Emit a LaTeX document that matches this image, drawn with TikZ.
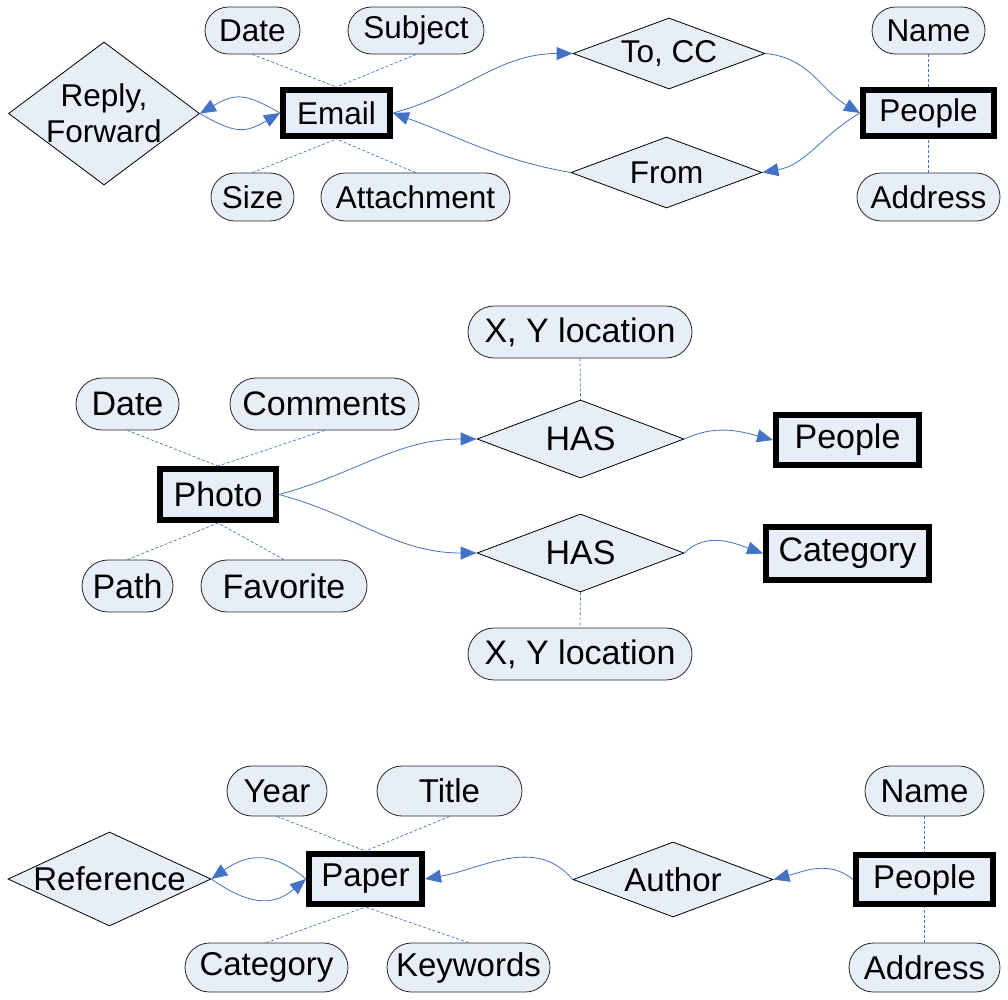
\documentclass[tikz,border=0pt]{standalone}
\usepackage{fontspec}
\setmainfont{Liberation Sans}
\usetikzlibrary{arrows.meta,shapes.geometric,shapes.misc}
\definecolor{erfill}{RGB}{232,238,248}
\definecolor{erblue}{RGB}{68,114,196}
\tikzset{
  entity/.style={draw=black, line width=6pt, fill=erfill, inner sep=0pt},
  attr/.style={rounded rectangle, draw=black!85, line width=0.8pt, fill=erfill, inner sep=0pt},
  rel/.style={diamond, draw=black, line width=0.8pt, fill=erfill, inner sep=0pt},
  reltext/.style={inner sep=0pt, align=center},
  link/.style={draw=erblue, line width=0.8pt, -{Triangle[length=16pt,width=13pt]}},
  attrline/.style={draw=erblue, line width=0.7pt, dash pattern=on 3pt off 2pt},
  fa/.style={font=\fontsize{31.5}{36}\selectfont},
  fb/.style={font=\fontsize{34}{38}\selectfont},
  fc/.style={font=\fontsize{33}{37}\selectfont},
}
\begin{document}
\begin{tikzpicture}[x=1pt,y=1pt]
\useasboundingbox (0,0) rectangle (1008,-999);

% ---------- top: Email ----------
\node[attr,fa,minimum width=95pt,minimum height=47pt] (date1) at (252.5,-30.5) {Date};
\node[attr,fa,minimum width=136pt,minimum height=47pt] (subj) at (416,-30.5) {Subject};
\node[attr,fa,minimum width=83pt,minimum height=48pt] (size) at (252.5,-197) {Size};
\node[attr,fa,minimum width=189pt,minimum height=48pt] (attach) at (415.5,-197) {Attachment};
\node[attr,fa,minimum width=113pt,minimum height=47pt] (name1) at (928.5,-30.5) {Name};
\node[attr,fa,minimum width=143pt,minimum height=48pt] (addr1) at (928.5,-197) {Address};

\node[rel,minimum width=191pt,minimum height=143pt] (rf) at (104,-113.5) {};
\node[reltext,fa] (rft) at (rf) {Reply,\\Forward};
\node[rel,minimum width=192pt,minimum height=71pt] (tocc) at (669,-53.5) {};
\node[reltext,fa] (tocct) at (tocc) {To, CC};
\node[rel,minimum width=191pt,minimum height=71pt] (from) at (666.5,-172.5) {};
\node[reltext,fa] (fromt) at (from) {From};

\node[entity,fa,minimum width=107pt,minimum height=46pt] (email) at (336.5,-113) {Email};
\node[entity,fa,minimum width=131pt,minimum height=46pt] (people1) at (928.5,-113) {People};

\draw[attrline] (date1.south) -- (email.north);
\draw[attrline] (subj.south) -- (email.north);
\draw[attrline] (size.north) -- (email.south);
\draw[attrline] (attach.north) -- (email.south);
\draw[attrline] (name1.south) -- (people1.north);
\draw[attrline] (addr1.north) -- (people1.south);

\draw[link] (email.west) to[out=150,in=30,looseness=1.3] (rf.east);
\draw[link] (rf.east) to[out=-30,in=-150,looseness=1.3] (email.west);
\draw[link] (email.east) to[out=15,in=180] (tocc.west);
\draw[link] (from.west) to[out=170,in=-20] (email.east);
\draw[link] (tocc.east) to[out=-5,in=150] (people1.west);
\draw[link] (people1.west) to[out=-150,in=10] (from.east);

% ---------- middle: Photo ----------
\node[attr,fb,minimum width=224pt,minimum height=52pt] (xy1) at (580,-332) {X, Y location};
\node[attr,fb,minimum width=103pt,minimum height=52pt] (date2) at (127.5,-404) {Date};
\node[attr,fb,minimum width=189pt,minimum height=52pt] (comm) at (324.5,-404) {Comments};
\node[attr,fb,minimum width=91pt,minimum height=52pt] (pth) at (127.5,-586) {Path};
\node[attr,fb,minimum width=166pt,minimum height=52pt] (fav) at (284,-586) {Favorite};
\node[attr,fb,minimum width=224pt,minimum height=52pt] (xy2) at (580,-654) {X, Y location};

\node[rel,minimum width=207pt,minimum height=78pt] (has1) at (580.5,-439) {};
\node[reltext,fb] (has1t) at (has1) {HAS};
\node[rel,minimum width=207pt,minimum height=78pt] (has2) at (580.5,-553) {};
\node[reltext,fb] (has2t) at (has2) {HAS};

\node[entity,fb,minimum width=116pt,minimum height=51pt] (photo) at (218,-494.5) {Photo};
\node[entity,fb,minimum width=143pt,minimum height=50pt] (people2) at (847.5,-440) {People};
\node[entity,fb,minimum width=163pt,minimum height=53pt] (cat1) at (847.5,-553.5) {Category};

\draw[attrline] (date2.south) -- (photo.north);
\draw[attrline] (comm.south) -- (photo.north);
\draw[attrline] (pth.north) -- (photo.south);
\draw[attrline] (fav.north) -- (photo.south);
\draw[attrline] (xy1.south) -- (has1.north);
\draw[attrline] (has2.south) -- (xy2.north);

\draw[link] (photo.east) to[out=15,in=180] (has1.west);
\draw[link] (photo.east) to[out=-15,in=180] (has2.west);
\draw[link] (has1.east) to[out=25,in=165] (people2.west);
\draw[link] (has2.east) to[out=45,in=160] (cat1.west);

% ---------- bottom: Paper ----------
\node[attr,fc,minimum width=100pt,minimum height=50pt] (year) at (277,-791) {Year};
\node[attr,fc,minimum width=145pt,minimum height=50pt] (title) at (449.5,-791) {Title};
\node[attr,fc,minimum width=163pt,minimum height=49pt] (cat2) at (266.5,-967.5) {Category};
\node[attr,fc,minimum width=163pt,minimum height=49pt] (kw) at (468.5,-967.5) {Keywords};
\node[attr,fc,minimum width=119pt,minimum height=50pt] (name3) at (924.5,-791) {Name};
\node[attr,fc,minimum width=151pt,minimum height=49pt] (addr3) at (924.5,-967.5) {Address};

\node[rel,minimum width=203pt,minimum height=94pt] (ref) at (109.5,-879) {};
\node[reltext,fc] (reft) at (ref) {Reference};
\node[rel,minimum width=200pt,minimum height=75pt] (author) at (673,-879.5) {};
\node[reltext,fc] (authort) at (author) {Author};

\node[entity,fc,minimum width=113pt,minimum height=50pt] (paper) at (365.5,-879) {Paper};
\node[entity,fc,minimum width=137pt,minimum height=49pt] (people3) at (924.5,-879.5) {People};

\draw[attrline] (year.south) -- (paper.north);
\draw[attrline] (title.south) -- (paper.north);
\draw[attrline] (cat2.north) -- (paper.south);
\draw[attrline] (kw.north) -- (paper.south);
\draw[attrline] (name3.south) -- (people3.north);
\draw[attrline] (addr3.north) -- (people3.south);

\draw[link] (paper.west) to[out=140,in=35,looseness=1.2] (ref.east);
\draw[link] (ref.east) to[out=-35,in=-140,looseness=1.2] (paper.west);
\draw[link] (author.west) to[out=130,in=10] (paper.east);
\draw[link] (people3.west) to[out=140,in=15] (author.east);
\end{tikzpicture}
\end{document}
